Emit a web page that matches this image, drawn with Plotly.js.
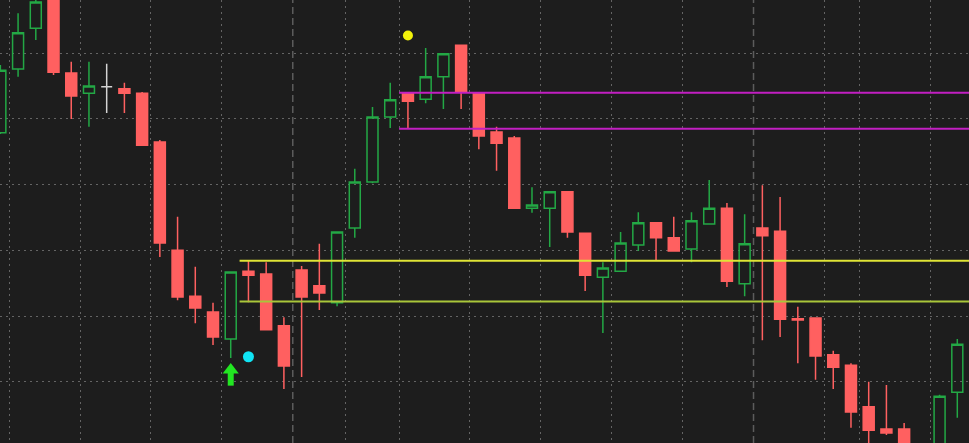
<!DOCTYPE html>
<html>
<head>
<meta charset="utf-8">
<script src="https://cdn.plot.ly/plotly-3.0.1.min.js"></script>
<style>
html,body{margin:0;padding:0;background:#1d1d1d;overflow:hidden;}
#chart{width:969px;height:443px;}
</style>
</head>
<body>
<div id="chart"></div>
<script>
// ---- data ----
const bars = [0,1,2,3,4,5,6,7,8,9,10,11,12,13,14,15,16,17,18,19,20,21,22,23,24,25,26,27,28,29,
  30,31,32,33,34,35,36,37,38,39,40,41,42,43,44,45,46,47,48,49,50,51,53,54];
const openP = [103.79,104.76,105.38,106.04,104.70,104.39,104.49,104.46,104.39,103.65,
  102.00,101.30,101.06,100.65,101.68,101.64,100.85,101.70,101.46,101.20,
  102.34,103.04,104.03,104.39,104.30,104.64,105.12,104.39,103.80,103.71,
  102.64,102.64,102.89,102.26,101.59,101.68,102.08,102.42,102.19,102.02,
  102.40,102.64,101.49,102.34,102.29,100.96,100.97,100.41,100.25,99.62,
  99.28,99.28,98.88,99.84];
const highP = [104.82,105.61,105.86,106.11,104.87,104.87,104.84,104.55,104.41,103.68,
  102.51,101.75,101.20,101.68,101.84,101.82,100.98,101.76,102.10,102.29,
  103.24,104.18,104.55,104.39,105.08,104.99,105.12,104.39,103.88,103.74,
  102.96,102.90,102.89,102.26,101.82,102.28,102.58,102.42,102.51,102.58,
  103.07,102.72,102.55,102.99,102.81,101.14,100.97,100.47,100.28,100.00,
  99.95,99.37,99.80,100.65];
const lowP = [103.77,104.64,105.20,104.67,104.00,103.88,104.09,104.09,103.59,101.90,
  101.24,100.89,100.56,100.36,101.21,100.79,99.89,100.07,101.09,101.15,
  102.19,103.02,103.86,103.86,104.24,104.15,104.15,103.54,103.21,102.64,
  102.57,102.05,102.19,101.38,100.74,101.68,101.99,101.85,101.99,101.82,
  102.39,101.44,101.30,100.63,100.68,100.28,100.03,99.89,99.30,99.04,
  99.19,98.88,98.81,99.45];
const closeP = [104.74,105.31,105.78,104.71,104.35,104.50,104.49,104.39,103.60,102.11,
  101.29,101.12,100.68,101.67,101.62,100.79,100.24,101.29,101.35,102.28,
  103.04,104.03,104.29,104.27,104.64,104.99,104.42,103.74,103.63,102.64,
  102.69,102.89,102.28,101.62,101.73,102.11,102.42,102.19,101.99,102.45,
  102.64,101.53,102.10,102.22,100.95,100.94,100.39,100.22,99.54,99.26,
  99.22,98.96,99.78,100.57];

// support / resistance levels (start bar, price)
const levelStart = [22.5, 22.5, 13.5, 13.5];
const levelPrice = [104.40, 103.85, 101.84, 101.22];
const levelColor = ['#c21fc2', '#c21fc2', '#dfe436', '#a9c63a'];

// signals
const arrowBar = 13, arrowPrice = 100.18;
const cyanBar = 14, cyanPrice = 100.38;
const yellowBar = 23, yellowPrice = 105.27;

// grid (time separators)
const gridX = [0.5,4.5,8.5,12.5,19.5,22.5,26.5,30.5,34.5,38.5,46.5,48.5,52.5];
const sessionBreaks = [16.5, 42.5];

const yMin = 99.067, yMax = 105.81;
const xMin = -0.02, xMax = 54.66;

// ---- build traces ----
function subset(pred) {
  const o = {x:[],open:[],high:[],low:[],close:[]};
  bars.forEach((b,i)=>{
    if (pred(openP[i], closeP[i])) {
      o.x.push(b); o.open.push(openP[i]); o.high.push(highP[i]);
      o.low.push(lowP[i]); o.close.push(closeP[i]);
    }
  });
  return o;
}
function candle(d, line, fill) {
  return Object.assign({
    type:'candlestick', whiskerwidth:0, hoverinfo:'skip',
    increasing:{line:{color:line,width:1.5}, fillcolor:fill},
    decreasing:{line:{color:line,width:1.5}, fillcolor:fill}
  }, d);
}
const traces = [];
// session separators
const sx=[], sy=[];
sessionBreaks.forEach(b=>{ sx.push(b,b,null); sy.push(yMin,yMax,null); });
traces.push({type:'scatter', mode:'lines', x:sx, y:sy, hoverinfo:'skip',
  line:{color:'#5c5c5c', width:1.5, dash:'7px,4px'}});

traces.push(candle(subset((o,c)=>c>o), '#23a845', 'rgba(0,0,0,0)'));
traces.push(candle(subset((o,c)=>c<o), '#ff6060', '#ff6060'));
traces.push(candle(subset((o,c)=>c===o), '#d4d4d4', '#d4d4d4'));

levelPrice.forEach((p,i)=>{
  traces.push({type:'scatter', mode:'lines', x:[levelStart[i], xMax+1], y:[p,p],
    hoverinfo:'skip', line:{color:levelColor[i], width:2}});
});

// arrow signal: shaft + head
traces.push({type:'scatter', mode:'lines', x:[arrowBar,arrowBar], y:[arrowPrice-0.03, arrowPrice-0.24],
  hoverinfo:'skip', line:{color:'#22e622', width:6}});
traces.push({type:'scatter', mode:'markers', x:[arrowBar], y:[arrowPrice], hoverinfo:'skip',
  marker:{symbol:'triangle-up', size:14, color:'#22e622', line:{width:0}}});
traces.push({type:'scatter', mode:'markers', x:[cyanBar], y:[cyanPrice], hoverinfo:'skip',
  marker:{symbol:'circle', size:11, color:'#10e4f4', line:{width:0}}});
traces.push({type:'scatter', mode:'markers', x:[yellowBar], y:[yellowPrice], hoverinfo:'skip',
  marker:{symbol:'circle', size:10, color:'#f2f20a', line:{width:0}}});

const layout = {
  width:969, height:443,
  margin:{l:0,r:0,t:0,b:0,pad:0},
  paper_bgcolor:'#1d1d1d', plot_bgcolor:'#1d1d1d',
  showlegend:false,
  boxgap:0.38, boxgroupgap:0,
  xaxis:{range:[xMin,xMax], tickmode:'array', tickvals:gridX, showticklabels:false, ticks:'',
    showgrid:true, gridcolor:'#646464', gridwidth:1, griddash:'2px,4px',
    zeroline:false, showline:false, rangeslider:{visible:false}, fixedrange:true},
  yaxis:{range:[yMin,yMax], tick0:100, dtick:1, showticklabels:false, ticks:'',
    showgrid:true, gridcolor:'#646464', gridwidth:1, griddash:'2px,4px',
    zeroline:false, showline:false, fixedrange:true}
};
Plotly.newPlot('chart', traces, layout, {staticPlot:true, displayModeBar:false});
</script>
</body>
</html>
